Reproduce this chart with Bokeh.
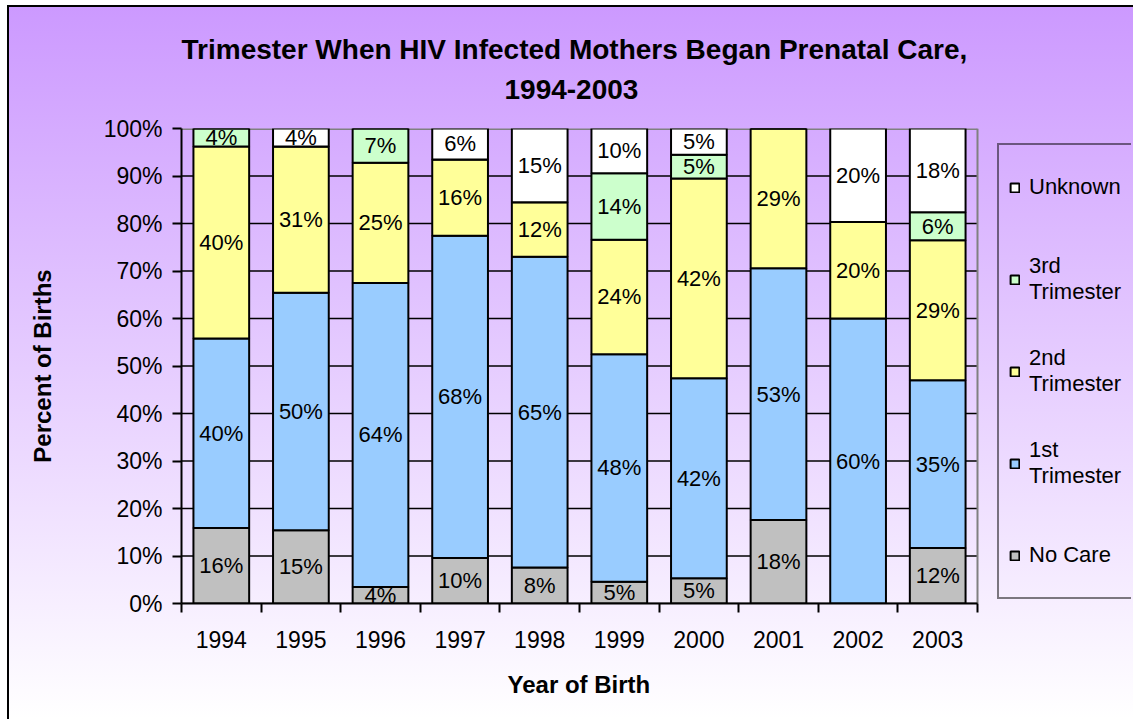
from bokeh.plotting import figure
from bokeh.models import (ColumnDataSource, FixedTicker, PrintfTickFormatter,
                          Legend, LegendItem, Range1d, Title, Span)
from bokeh.core.properties import value
from bokeh.embed import file_html
from bokeh.resources import INLINE

# ---------------- data ----------------
years = ["1994", "1995", "1996", "1997", "1998", "1999", "2000", "2001", "2002", "2003"]
no_care    = [15.9, 15.4, 3.5, 9.6, 7.6, 4.6, 5.3, 17.6, 0.0, 11.7]
first_tri  = [39.9, 50.0, 64.0, 67.8, 65.4, 47.9, 42.1, 53.0, 60.0, 35.3]
second_tri = [40.4, 30.8, 25.3, 16.1, 11.5, 24.1, 42.1, 29.4, 20.3, 29.49]
third_tri  = [3.8, 0.0, 7.2, 0.0, 0.0, 14.0, 5.0, 0.0, 0.0, 5.9]
unknown    = [0.0, 3.8, 0.0, 6.49, 15.49, 9.5, 5.49, 0.0, 19.7, 17.6]

series_keys   = ["no_care", "first_tri", "second_tri", "third_tri", "unknown"]
series_labels = ["No Care", "1st\nTrimester", "2nd\nTrimester", "3rd\nTrimester", "Unknown"]
series_colors = ["#c0c0c0", "#99ccff", "#ffff99", "#ccffcc", "#ffffff"]
y_ticks = [0, 10, 20, 30, 40, 50, 60, 70, 80, 90, 100]
title_lines = ["Trimester When HIV Infected Mothers Began Prenatal Care,", "1994-2003"]
x_title = "Year of Birth"
y_title = "Percent of Births"

series_values = [no_care, first_tri, second_tri, third_tri, unknown]
n = len(years)
xs = list(range(n))

src = ColumnDataSource(dict(x=xs, no_care=no_care, first_tri=first_tri,
                            second_tri=second_tri, third_tri=third_tri, unknown=unknown))

# label positions (segment midpoints)
lx, ly, lt = [], [], []
for i in xs:
    base = 0.0
    for vals in series_values:
        v = vals[i]
        if v > 0:
            lx.append(i)
            ly.append(base + v / 2.0)
            lt.append("%d%%" % int(v + 0.5))
        base += v
lab_src = ColumnDataSource(dict(x=lx, y=ly, text=lt))

FONT = "Liberation Sans"

# layout: frame extends under the legend; bar area is 796 px of the 950 px frame
FRAME_W, BAR_AREA_W = 950, 796
x_end = -0.5 + n * FRAME_W / BAR_AREA_W

p = figure(width=1126, height=714, output_backend="svg", toolbar_location=None,
           x_range=Range1d(-0.5, x_end), y_range=Range1d(0, 100),
           min_border_left=174, min_border_right=2, min_border_top=123,
           min_border_bottom=116)

p.background_fill_color = None
p.border_fill_color = None
p.outline_line_color = None
p.styles = {"background": ("linear-gradient(#000000, #000000) left top / 2px 100% no-repeat, "
                           "linear-gradient(#000000, #000000) left top / 100% 2px no-repeat, "
                           "linear-gradient(180deg, #cc99ff 0%, #ffffff 100%)"),
            "margin-left": "7px", "margin-top": "5px"}

# titles (two centred lines, stacked upward from the frame)
p.title.visible = False
spacer = Title(text=" ", standoff=0, text_font=FONT, text_font_size="21px")
t2 = Title(text=title_lines[1], align="left", offset=323, standoff=10,
           text_font=FONT, text_font_size="28px", text_font_style="bold",
           text_color="black")
t1 = Title(text=title_lines[0], align="left", offset=0, standoff=16,
           text_font=FONT, text_font_size="28px", text_font_style="bold",
           text_color="black")
p.add_layout(spacer, "above")
p.add_layout(t2, "above")
p.add_layout(t1, "above")

# grid lines across the bar area only (drawn beneath the bars)
grid_src = ColumnDataSource(dict(x0=[-0.5] * (len(y_ticks) - 1), x1=[n - 0.5] * (len(y_ticks) - 1),
                                 y=y_ticks[:-1]))
p.segment(x0="x0", x1="x1", y0="y", y1="y", source=grid_src, line_color="black",
          line_width=1.5, level="underlay")
p.segment(x0=[-0.5], x1=[n - 0.5], y0=y_ticks[-1:], y1=y_ticks[-1:], line_color="#808080",
          line_width=3, level="underlay")
p.add_layout(Span(location=n - 0.5, dimension="height", line_color="#808080",
                  line_width=2, level="underlay"))

# bars
rends = p.vbar_stack(series_keys, x="x", width=0.7, source=src,
                     fill_color=series_colors, line_color="black", line_width=2)

# data labels
p.text(x="x", y="y", text="text", source=lab_src, text_align="center",
       text_baseline="middle", text_font=value(FONT), text_font_size=value("22px"),
       text_color="black")

p.xgrid.visible = False
p.ygrid.visible = False

# y axis
ya = p.yaxis[0]
ya.ticker = FixedTicker(ticks=y_ticks)
ya.formatter = PrintfTickFormatter(format="%d%%")
ya.axis_line_width = 2
ya.axis_line_color = "black"
ya.major_tick_line_width = 2
ya.major_tick_line_color = "black"
ya.major_tick_out = 9
ya.major_tick_in = 0
ya.minor_tick_line_color = None
ya.major_label_text_font = FONT
ya.major_label_text_font_size = "23px"
ya.major_label_text_color = "black"
ya.major_label_standoff = 10
ya.axis_label = y_title
ya.axis_label_text_font = FONT
ya.axis_label_text_font_size = "24px"
ya.axis_label_text_font_style = "bold"
ya.axis_label_text_color = "black"
ya.axis_label_standoff = 45

# x axis
xa = p.xaxis[0]
xa.bounds = (-0.5, n - 0.5)
xa.ticker = FixedTicker(ticks=xs, minor_ticks=[i - 0.5 for i in range(n + 1)])
xa.major_label_overrides = {i: y for i, y in zip(xs, years)}
xa.axis_line_width = 2
xa.axis_line_color = "black"
xa.major_tick_out = 0
xa.major_tick_in = 0
xa.major_tick_line_color = None
xa.minor_tick_out = 9
xa.minor_tick_in = 0
xa.minor_tick_line_color = "black"
xa.minor_tick_line_width = 2
xa.major_label_text_font = FONT
xa.major_label_text_font_size = "23px"
xa.major_label_text_color = "black"
xa.major_label_standoff = 18

# x axis title, centred under the bars
xt = Title(text=x_title, align="left", offset=326, standoff=36,
           text_font=FONT, text_font_size="24px", text_font_style="bold",
           text_color="black")
p.add_layout(xt, "below")

# legend (inside the extended frame, right of the bars)
items = [LegendItem(label=series_labels[i], renderers=[rends[i]])
         for i in reversed(range(len(series_keys)))]
legend = Legend(items=items, location=(816, 4), orientation="vertical",
                border_line_color="black", border_line_width=2,
                background_fill_alpha=0, label_text_font=FONT,
                label_text_font_size="22px", label_text_color="black",
                glyph_width=11, glyph_height=11, label_standoff=9,
                padding=10, spacing=28, label_height=64, margin=0)
p.add_layout(legend, "center")

open("out.html", "w").write(file_html(p, INLINE))
